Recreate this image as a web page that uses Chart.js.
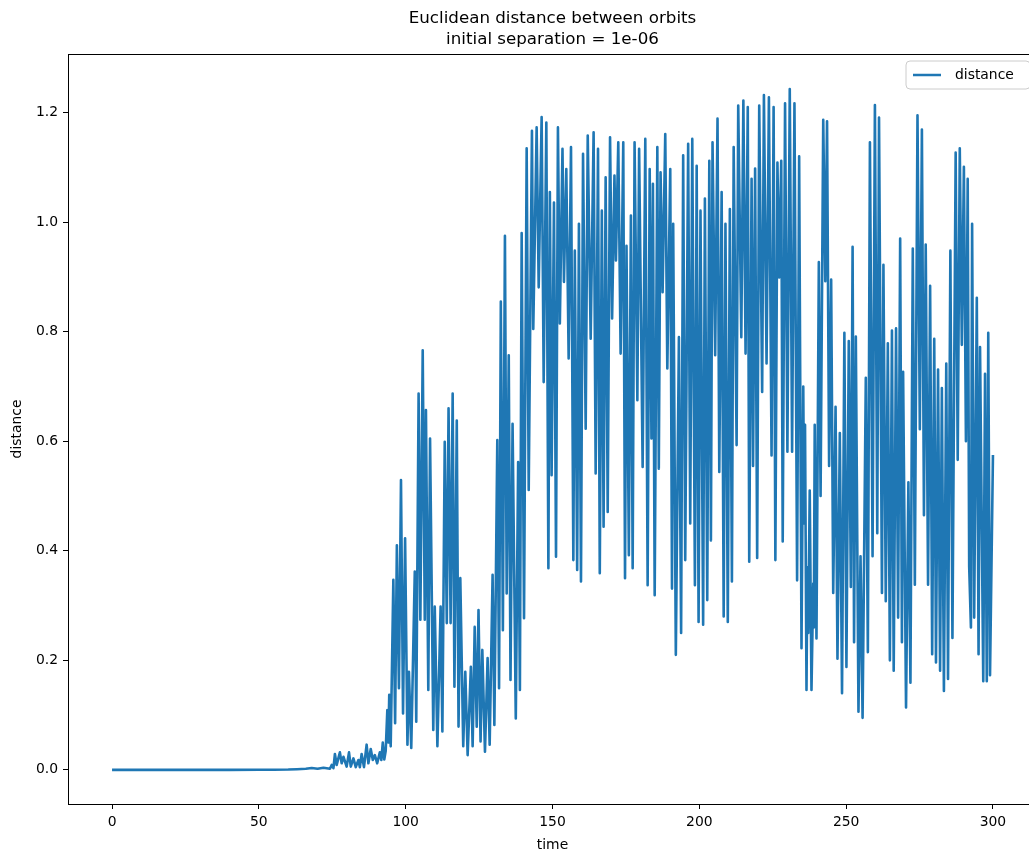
<!DOCTYPE html>
<html lang="en">
<head>
    <meta charset="UTF-8" />
    <title>Euclidean distance between orbits</title>
    <script src="https://cdn.jsdelivr.net/npm/chart.js"></script>
    <style>
        html, body { margin: 0; padding: 0; background: #fff; overflow: hidden; }
        #chart { display: block; }
    </style>
</head>
<body>
    <canvas id="chart" width="1050" height="857"></canvas>

    <script>
        // Distance between the two orbits over time
        const times = [
            0, 10, 20, 30, 40, 50, 55, 60, 63, 66, 68, 70, 72, 74.2,
            74.8, 75.4, 75.9, 76.5, 77.6, 78.2, 78.8, 79.9, 80.7, 81.3, 82.2, 83.0, 83.9, 84.4,
            85.0, 85.8, 86.7, 87.3, 88.1, 88.8, 89.5, 90.3, 91.2, 91.7, 92.2, 92.7, 93.2, 93.75,
            94.1, 94.4, 94.9,
            95.8, 96.4, 97.0, 97.7, 98.4, 99.1, 99.8, 100.6, 101.1, 101.9, 103.1, 103.6, 104.4,
            105.0, 105.8, 106.5, 106.9, 107.7, 108.3, 109.4, 109.9, 110.8, 111.9, 112.5, 113.3,
            114.0, 114.6, 115.3, 116.0, 116.6, 117.4, 118.0, 118.6, 119.6, 120.3, 121.1, 122.2,
            122.8, 123.5, 124.2, 124.8, 125.5, 126.1, 127.0, 127.9, 128.6, 129.6, 130.2, 131.2,
            131.8, 132.4, 133.1, 133.8, 134.4, 135.1, 135.7, 136.4, 137.5, 138.3, 138.9, 139.5,
            140.3, 141.2, 141.9,
            143.0, 143.45, 144.6, 145.3, 146.3, 147.0, 147.9, 148.6, 149.1, 149.7, 150.5, 151.2,
            151.85, 152.5, 153.4, 153.9, 154.7, 155.5, 156.3, 157.1, 157.6, 158.4, 159.0, 159.7,
            160.4, 161.3, 162.0, 163.0, 164.0, 164.7, 165.5, 166.1, 166.8, 167.4, 168.1, 168.8,
            169.6, 170.3, 171.1, 171.6, 172.4, 173.2, 174.1, 174.7, 175.2, 176.0, 176.7, 177.3,
            177.95, 178.9, 179.5, 180.7, 181.6, 182.4, 183.1, 183.7, 184.2, 184.8, 185.7, 186.2,
            186.8, 187.5, 188.4, 189.1, 190.1, 190.7, 191.1, 192.0, 193.05, 193.8, 194.5, 195.2,
            196.2, 196.9, 197.6, 198.5, 199.1, 199.75, 200.4, 201.3, 201.9, 202.7, 203.4, 203.95,
            204.5, 205.4, 206.2, 206.8, 207.6, 208.3, 208.9, 209.7, 210.4, 211.1, 211.7, 212.7,
            213.25, 214.3, 215.0, 215.75, 216.5, 217.0,
            217.8, 218.3, 219.0, 219.7, 220.4, 221.4, 222.0, 222.9, 223.7, 224.6, 225.3, 225.9,
            226.6, 227.2, 227.9, 228.4, 229.2, 230.0, 230.8, 231.6, 232.4, 233.3, 234.0, 234.8,
            235.4, 235.7, 236.0, 236.5, 236.8, 237.1, 237.6, 238.2, 238.8, 239.0, 239.3, 239.9,
            240.7, 241.3, 242.2, 242.9, 243.5, 244.2, 244.9, 245.6, 246.4, 247.05, 247.85, 248.6,
            249.4, 250.1, 250.9, 251.6, 252.2, 252.7, 253.3, 254.2, 254.9, 255.6, 256.7, 257.4,
            258.1, 259.0, 259.8, 260.6, 261.2, 262.2, 262.7, 263.5, 264.2, 264.9, 265.6, 266.2,
            267.0, 267.7, 268.4, 269.0, 269.4, 270.4, 271.2, 271.9, 272.7, 273.4, 274.3, 275.1,
            275.8, 276.5, 277.1, 277.9, 278.6, 279.3, 280.0, 280.6, 281.3, 282.0, 282.6, 283.3,
            284.1, 284.7, 285.5, 286.2, 287.3, 288.0, 288.7, 289.4, 290.1, 290.8, 291.4, 291.9,
            292.5, 292.9, 293.6, 294.5, 295.1, 295.6, 296.7, 297.3, 297.9, 298.4, 299.0, 300.0
        ];

        const distance = [
            0.000001, 0.000002, 0.000004, 0.00001, 0.00003, 0.0001, 0.0002, 0.0006, 0.0012, 0.002, 0.0035, 0.002, 0.004, 0.002,
            0.009, 0.003, 0.029, 0.009, 0.032, 0.012, 0.024, 0.006, 0.032, 0.006, 0.021, 0.005, 0.018, 0.005,
            0.029, 0.005, 0.046, 0.012, 0.038, 0.018, 0.027, 0.012, 0.032, 0.018, 0.050, 0.019, 0.035, 0.109,
            0.050, 0.137, 0.043,
            0.347, 0.085, 0.410, 0.149, 0.529, 0.103, 0.423, 0.046, 0.179, 0.040, 0.362, 0.088, 0.687,
            0.274, 0.766, 0.274, 0.657, 0.146, 0.605, 0.073, 0.298, 0.043, 0.298, 0.070, 0.599,
            0.268, 0.660, 0.268, 0.687, 0.152, 0.638, 0.079, 0.350, 0.043, 0.179, 0.027, 0.188,
            0.043, 0.261, 0.079, 0.292, 0.052, 0.219, 0.033, 0.204, 0.046, 0.356, 0.082, 0.602,
            0.149, 0.855, 0.255, 0.975, 0.322, 0.757, 0.164, 0.632, 0.094, 0.562, 0.146, 0.980,
            0.277, 1.135, 0.511,
            1.167, 0.805, 1.173, 0.881, 1.192, 0.708, 1.182, 0.368, 1.055, 0.538, 1.036, 0.389,
            1.173, 0.815, 1.134, 0.891, 1.097, 0.751, 1.137, 0.383, 0.948, 0.365, 0.997, 0.344,
            1.125, 0.623, 1.158, 0.787, 1.164, 0.541, 1.134, 0.359, 1.021, 0.444, 1.082, 0.471,
            1.155, 0.824, 1.085, 0.930, 1.146, 0.760, 1.146, 0.350, 0.957, 0.392, 1.012, 0.368,
            1.146, 0.675, 1.134, 0.553, 1.152, 0.337, 1.097, 0.605, 1.070, 0.319, 1.137, 0.550,
            1.091, 0.872, 1.161, 0.733, 1.097, 0.331, 0.997, 0.210, 0.790, 0.250, 1.122, 0.383,
            1.143, 0.450, 1.152, 0.337, 1.103, 0.270, 1.021, 0.265, 1.043, 0.310, 1.112, 0.419,
            1.146, 0.757, 1.189, 0.544, 1.055, 0.280, 0.997, 0.270, 1.024, 0.344, 1.137, 0.593,
            1.213, 0.790, 1.222, 0.760, 1.210, 0.380,
            1.079, 0.555, 1.098, 0.387, 1.213, 0.690, 1.232, 0.742, 1.228, 0.574, 1.210, 0.383,
            1.109, 0.899, 1.112, 0.417, 1.217, 0.581, 1.243, 0.581, 1.217, 0.346, 1.120, 0.222,
            0.700, 0.450, 0.630, 0.146, 0.370, 0.250, 0.510, 0.146, 0.340, 0.260, 0.630, 0.240,
            0.927, 0.500, 1.187, 0.892, 1.184, 0.555, 0.895, 0.323, 0.663, 0.203, 0.615, 0.140,
            0.798, 0.188, 0.783, 0.334, 0.955, 0.233, 0.791, 0.106, 0.390, 0.095, 0.716, 0.215,
            1.146, 0.390, 1.214, 0.432, 1.191, 0.323, 0.922, 0.308, 0.779, 0.200, 0.802, 0.181,
            0.806, 0.278, 0.970, 0.233, 0.727, 0.114, 0.525, 0.159, 0.952, 0.338, 1.195, 0.622,
            1.169, 0.465, 0.959, 0.338, 0.884, 0.211, 0.787, 0.196, 0.731, 0.181, 0.697, 0.144,
            0.742, 0.166, 0.948, 0.241, 1.127, 0.566, 1.135, 0.776, 1.101, 0.600, 1.079, 0.372,
            0.260, 0.997, 0.278, 0.862, 0.211, 0.772, 0.162, 0.723, 0.162, 0.798, 0.173, 0.575
        ];

        const xTicks = [0, 50, 100, 150, 200, 250, 300];
        const yTicks = [0.0, 0.2, 0.4, 0.6, 0.8, 1.0, 1.2];

        const titleLines = ['Euclidean distance between orbits', 'initial separation = 1e-06'];
        const seriesLabel = 'distance';

        const FONT = "'DejaVu Sans', sans-serif";
        const LINE_COLOR = '#1f77b4';

        // frame, titles and legend drawn like a matplotlib axes
        const decorations = {
            id: 'decorations',
            afterDraw(chart) {
                const { ctx, chartArea: a } = chart;
                ctx.save();

                // spines
                ctx.strokeStyle = '#000';
                ctx.lineWidth = 1;
                ctx.strokeRect(Math.round(a.left) + 0.5, Math.round(a.top) + 0.5,
                    Math.round(a.right - a.left), Math.round(a.bottom - a.top));

                const cx = (a.left + a.right) / 2;
                ctx.fillStyle = '#000';
                ctx.textAlign = 'center';
                ctx.textBaseline = 'middle';

                // title
                ctx.font = `16.7px ${FONT}`;
                ctx.fillText(titleLines[0], cx, 19);
                ctx.fillText(titleLines[1], cx, 40);

                // axis labels
                ctx.font = `13.9px ${FONT}`;
                ctx.fillText('time', cx, 845);
                ctx.save();
                ctx.translate(17, (a.top + a.bottom) / 2);
                ctx.rotate(-Math.PI / 2);
                ctx.fillText('distance', 0, 0);
                ctx.restore();

                // legend box
                const lx = 906, ly = 61, lw = 124, lh = 28, r = 4;
                ctx.beginPath();
                ctx.moveTo(lx + r, ly);
                ctx.arcTo(lx + lw, ly, lx + lw, ly + lh, r);
                ctx.arcTo(lx + lw, ly + lh, lx, ly + lh, r);
                ctx.arcTo(lx, ly + lh, lx, ly, r);
                ctx.arcTo(lx, ly, lx + lw, ly, r);
                ctx.closePath();
                ctx.fillStyle = 'rgba(255,255,255,0.8)';
                ctx.fill();
                ctx.strokeStyle = '#cccccc';
                ctx.stroke();

                ctx.strokeStyle = LINE_COLOR;
                ctx.lineWidth = 2.5;
                ctx.beginPath();
                ctx.moveTo(913, ly + lh / 2);
                ctx.lineTo(941, ly + lh / 2);
                ctx.stroke();

                ctx.fillStyle = '#000';
                ctx.textAlign = 'left';
                ctx.fillText(seriesLabel, 955, ly + lh / 2);

                ctx.restore();
            }
        };

        const points = times.map((t, i) => ({ x: t, y: distance[i] }));

        const tickFont = { family: FONT, size: 13.9 };

        new Chart(document.getElementById('chart'), {
            type: 'line',
            data: {
                datasets: [{
                    label: seriesLabel,
                    data: points,
                    borderColor: LINE_COLOR,
                    borderWidth: 2.6,
                    borderJoinStyle: 'round',
                    pointRadius: 0,
                    tension: 0,
                    fill: false
                }]
            },
            options: {
                responsive: false,
                animation: false,
                events: [],
                layout: { padding: { top: 54, right: 13, left: 0, bottom: 0 } },
                plugins: {
                    legend: { display: false },
                    tooltip: { enabled: false },
                    title: { display: false }
                },
                scales: {
                    x: {
                        type: 'linear',
                        min: -15,
                        max: 315,
                        afterBuildTicks: axis => { axis.ticks = xTicks.map(v => ({ value: v })); },
                        afterFit: axis => { axis.height = 53; },
                        grid: { drawOnChartArea: false, drawTicks: true, tickLength: 5, tickColor: '#000' },
                        border: { display: false },
                        ticks: {
                            color: '#000',
                            font: tickFont,
                            padding: 5,
                            maxRotation: 0,
                            autoSkip: false,
                            callback: v => String(v)
                        }
                    },
                    y: {
                        type: 'linear',
                        min: -0.0623,
                        max: 1.307,
                        afterBuildTicks: axis => { axis.ticks = yTicks.map(v => ({ value: v })); },
                        afterFit: axis => { axis.width = 68; },
                        grid: { drawOnChartArea: false, drawTicks: true, tickLength: 5, tickColor: '#000' },
                        border: { display: false },
                        ticks: {
                            color: '#000',
                            font: tickFont,
                            padding: 5,
                            autoSkip: false,
                            callback: v => v.toFixed(1)
                        }
                    }
                }
            },
            plugins: [decorations]
        });
    </script>
</body>
</html>
